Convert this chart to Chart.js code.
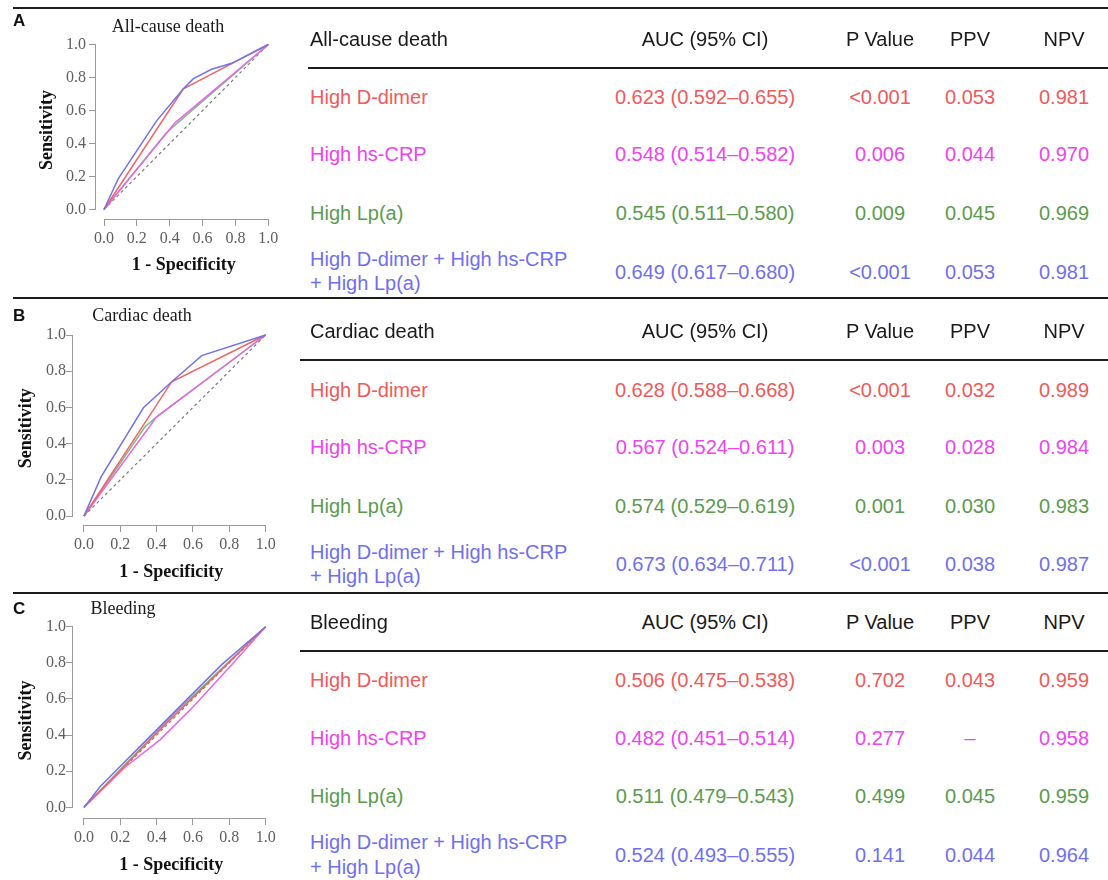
<!DOCTYPE html>
<html>
<head>
<meta charset="utf-8">
<script src="https://cdn.jsdelivr.net/npm/chart.js@4/dist/chart.umd.min.js"></script>
<style>
  html, body { margin: 0; padding: 0; background: #fff; }
  body { width: 1108px; height: 880px; position: relative; overflow: hidden;
         font-family: "Liberation Sans", Arial, sans-serif; }
  .c { position: absolute; white-space: nowrap; font-size: 20px; line-height: 24px; transform: translate(-50%, -50%); }
  .l { position: absolute; white-space: nowrap; font-size: 20px; line-height: 24px; transform: translateY(-50%); }
  .ttl { position: absolute; white-space: nowrap; font-family: "Liberation Serif", serif; font-size: 18px; color: #1a1a1a; transform: translate(-50%, -50%); }
  .letter { position: absolute; font-weight: bold; font-size: 17px; color: #111; transform: translateY(-50%); }
  .rule { position: absolute; height: 2px; background: #1c1c1c; }
  canvas { position: absolute; left: 0; }
</style>
</head>
<body>
<canvas id="chartA" width="290" height="290" style="top:0px"></canvas>
<canvas id="chartB" width="290" height="290" style="top:295px"></canvas>
<canvas id="chartC" width="290" height="290" style="top:590px"></canvas>
<script>
// ---------------- DATA ----------------
const tickValues = [0, 0.2, 0.4, 0.6, 0.8, 1.0];
const diagonal = [[0, 0], [1, 1]];
const seriesNames = ['High D-dimer', 'High hs-CRP', 'High Lp(a)', 'High D-dimer + High hs-CRP + High Lp(a)'];

// Panel A: All-cause death  (points are [1 - specificity, sensitivity])
const rocA_dDimer = [[0, 0], [0.483, 0.732], [0.777, 0.884], [1, 1]];
const rocA_hsCRP  = [[0, 0], [0.432, 0.525], [1, 1]];
const rocA_lpa    = [[0, 0], [0.381, 0.467], [1, 1]];
const rocA_combo  = [[0, 0], [0.087, 0.187], [0.32, 0.537], [0.483, 0.732], [0.544, 0.793], [0.655, 0.85], [0.777, 0.886], [1, 1]];

// Panel B: Cardiac death
const rocB_dDimer = [[0, 0], [0.483, 0.742], [1, 1]];
const rocB_hsCRP  = [[0, 0], [0.4, 0.548], [1, 1]];
const rocB_lpa    = [[0, 0], [0.336, 0.493], [0.4, 0.548], [1, 1]];
const rocB_combo  = [[0, 0], [0.094, 0.216], [0.327, 0.598], [0.483, 0.742], [0.648, 0.886], [1, 1]];

// Panel C: Bleeding
const rocC_dDimer = [[0, 0], [0.45, 0.462], [1, 1]];
const rocC_hsCRP  = [[0, 0], [0.226, 0.222], [0.42, 0.375], [0.6, 0.555], [0.813, 0.79], [1, 1]];
const rocC_lpa    = [[0, 0], [0.5, 0.522], [1, 1]];
const rocC_combo  = [[0, 0], [0.088, 0.114], [0.45, 0.48], [0.758, 0.79], [1, 1]];

// Table text
const outcomes = ['All-cause death', 'Cardiac death', 'Bleeding'];
const panelLetters = ['A', 'B', 'C'];
const headerCols = ['AUC (95% CI)', 'P Value', 'PPV', 'NPV'];
const rowLabels = [['High D-dimer'], ['High hs-CRP'], ['High Lp(a)'], ['High D-dimer + High hs-CRP', '+ High Lp(a)']];

const aucA = ['0.623 (0.592–0.655)', '0.548 (0.514–0.582)', '0.545 (0.511–0.580)', '0.649 (0.617–0.680)'];
const pA   = ['<0.001', '0.006', '0.009', '<0.001'];
const ppvA = ['0.053', '0.044', '0.045', '0.053'];
const npvA = ['0.981', '0.970', '0.969', '0.981'];

const aucB = ['0.628 (0.588–0.668)', '0.567 (0.524–0.611)', '0.574 (0.529–0.619)', '0.673 (0.634–0.711)'];
const pB   = ['<0.001', '0.003', '0.001', '<0.001'];
const ppvB = ['0.032', '0.028', '0.030', '0.038'];
const npvB = ['0.989', '0.984', '0.983', '0.987'];

const aucC = ['0.506 (0.475–0.538)', '0.482 (0.451–0.514)', '0.511 (0.479–0.543)', '0.524 (0.493–0.555)'];
const pC   = ['0.702', '0.277', '0.499', '0.141'];
const ppvC = ['0.043', '–', '0.045', '0.044'];
const npvC = ['0.959', '0.958', '0.959', '0.964'];

// ---------------- STYLE ----------------
const textColors = ['#f05a5a', '#ee44ee', '#5b9b4f', '#6f6ff0'];
const lineColors = ['#f26363', '#e866ee', '#78c078', '#7272ee'];

const panels = [
  { id: 'chartA', roc: [rocA_dDimer, rocA_hsCRP, rocA_lpa, rocA_combo],
    cols: [aucA, pA, ppvA, npvA],
    ruleY: 7, headY: 39, headRuleY: 67, headRuleX: 308, rowY: [97, 154, 213], comboY: [259, 283], comboValY: 272,
    titleX: 168, titleY: 26, letterY: 21,
    g: { xMin: -0.0487, yMin: -0.0576, padTop: 41.2, padRight: 18.4, yW: 96, xH: 71, yTitlePad: 36.2, xTitlePad: 14.2, yTickPad: 3 } },
  { id: 'chartB', roc: [rocB_dDimer, rocB_hsCRP, rocB_lpa, rocB_combo],
    cols: [aucB, pB, ppvB, npvB],
    ruleY: 297, headY: 331, headRuleY: 359, headRuleX: 300, rowY: [390, 447, 506], comboY: [552, 576], comboValY: 564,
    titleX: 142, titleY: 315, letterY: 316,
    g: { xMin: -0.0605, yMin: -0.0497, padTop: 36.4, padRight: 20.7, yW: 73, xH: 60, yTitlePad: 15.2, xTitlePad: 2.2, yTickPad: 0 } },
  { id: 'chartC', roc: [rocC_dDimer, rocC_hsCRP, rocC_lpa, rocC_combo],
    cols: [aucC, pC, ppvC, npvC],
    ruleY: 592, headY: 622, headRuleY: 650, headRuleX: 300, rowY: [680, 738, 796], comboY: [842, 867], comboValY: 855,
    titleX: 123, titleY: 608, letterY: 609,
    g: { xMin: -0.0605, yMin: -0.059, padTop: 33.1, padRight: 20.7, yW: 73, xH: 62, yTitlePad: 15.2, xTitlePad: 4.2, yTickPad: 0 } }
];
const colCenters = [705, 880, 970, 1064];
const labelX = 310;

// ---------------- HTML TEXT ----------------
function addDiv(cls, text, x, y, color) {
  const d = document.createElement('div');
  d.className = cls;
  d.textContent = text;
  d.style.left = x + 'px';
  d.style.top = y + 'px';
  if (color) d.style.color = color;
  document.body.appendChild(d);
  return d;
}
function addRule(x1, x2, y) {
  const d = document.createElement('div');
  d.className = 'rule';
  d.style.left = x1 + 'px';
  d.style.width = (x2 - x1) + 'px';
  d.style.top = y + 'px';
  document.body.appendChild(d);
}

panels.forEach((p, pi) => {
  addRule(13, 1108, p.ruleY);
  addRule(p.headRuleX, 1108, p.headRuleY);
  addDiv('letter', panelLetters[pi], 13, p.letterY);
  addDiv('ttl', outcomes[pi], p.titleX, p.titleY);
  addDiv('l', outcomes[pi], labelX, p.headY, '#1a1a1a');
  headerCols.forEach((h, ci) => addDiv('c', h, colCenters[ci], p.headY, '#1a1a1a'));
  for (let r = 0; r < 4; r++) {
    const color = textColors[r];
    if (r < 3) {
      addDiv('l', rowLabels[r][0], labelX, p.rowY[r], color);
      p.cols.forEach((col, ci) => addDiv('c', col[r], colCenters[ci], p.rowY[r], color));
    } else {
      addDiv('l', rowLabels[r][0], labelX, p.comboY[0], color);
      addDiv('l', rowLabels[r][1], labelX, p.comboY[1], color);
      p.cols.forEach((col, ci) => addDiv('c', col[r], colCenters[ci], p.comboValY, color));
    }
  }
});

// ---------------- CHARTS ----------------
const axisLinePlugin = {
  id: 'axisLines',
  afterDraw(chart) {
    const { ctx, chartArea: ca } = chart;
    const xs = chart.scales.x, ys = chart.scales.y;
    ctx.save();
    ctx.strokeStyle = '#9a9a9a';
    ctx.lineWidth = 1;
    ctx.beginPath();
    const yb = Math.round(ca.bottom) + 0.5;
    ctx.moveTo(xs.getPixelForValue(tickValues[0]), yb);
    ctx.lineTo(xs.getPixelForValue(tickValues[tickValues.length - 1]), yb);
    const xl = Math.round(ca.left) - 0.5;
    ctx.moveTo(xl, ys.getPixelForValue(tickValues[0]));
    ctx.lineTo(xl, ys.getPixelForValue(tickValues[tickValues.length - 1]));
    ctx.stroke();
    ctx.restore();
  }
};

const toXY = arr => arr.map(([x, y]) => ({ x, y }));
const tickFont = { family: 'Liberation Serif', size: 16 };
const axisTitleFont = { family: 'Liberation Serif', size: 18, weight: 'bold' };

panels.forEach(p => {
  const g = p.g;
  // Chart.js paints the first dataset on top: combination, D-dimer, hs-CRP, Lp(a), then reference line
  const stackOrder = [3, 0, 1, 2];
  const datasets = stackOrder.map(i => ({
    label: seriesNames[i],
    data: toXY(p.roc[i]),
    borderColor: lineColors[i],
    borderWidth: 1.5,
    pointRadius: 0,
    fill: false,
    tension: 0
  })).concat([{
    label: 'Reference',
    data: toXY(diagonal),
    borderColor: '#7a7a7a',
    borderWidth: 1.2,
    borderDash: [3, 3],
    pointRadius: 0,
    fill: false
  }]);

  new Chart(document.getElementById(p.id), {
    type: 'line',
    data: { datasets },
    options: {
      responsive: false,
      animation: false,
      devicePixelRatio: 1,
      layout: { padding: { top: g.padTop, right: g.padRight, left: 0, bottom: 0 } },
      plugins: { legend: { display: false }, tooltip: { enabled: false }, title: { display: false } },
      elements: { point: { radius: 0 }, line: { tension: 0 } },
      scales: {
        x: {
          type: 'linear', min: g.xMin, max: 1.02,
          afterBuildTicks: s => { s.ticks = tickValues.map(v => ({ value: v })); },
          afterFit: s => { s.height = g.xH; },
          grid: { drawOnChartArea: false, drawTicks: true, tickLength: 7, color: '#9a9a9a' },
          border: { display: false },
          ticks: { padding: 3, color: '#5e5e5e', font: tickFont, maxRotation: 0, autoSkip: false,
                   callback: v => Number(v).toFixed(1) },
          title: { display: true, text: '1 - Specificity', color: '#111', font: axisTitleFont,
                   padding: { top: 0, bottom: g.xTitlePad } }
        },
        y: {
          type: 'linear', min: g.yMin, max: 1.02,
          afterBuildTicks: s => { s.ticks = tickValues.map(v => ({ value: v })); },
          afterFit: s => { s.width = g.yW; },
          grid: { drawOnChartArea: false, drawTicks: true, tickLength: 7, color: '#9a9a9a' },
          border: { display: false },
          ticks: { padding: g.yTickPad, color: '#5e5e5e', font: tickFont, autoSkip: false,
                   callback: v => Number(v).toFixed(1) },
          title: { display: true, text: 'Sensitivity', color: '#111', font: axisTitleFont,
                   padding: { top: g.yTitlePad, bottom: 0 } }
        }
      }
    },
    plugins: [axisLinePlugin]
  });
});
</script>
</body>
</html>
